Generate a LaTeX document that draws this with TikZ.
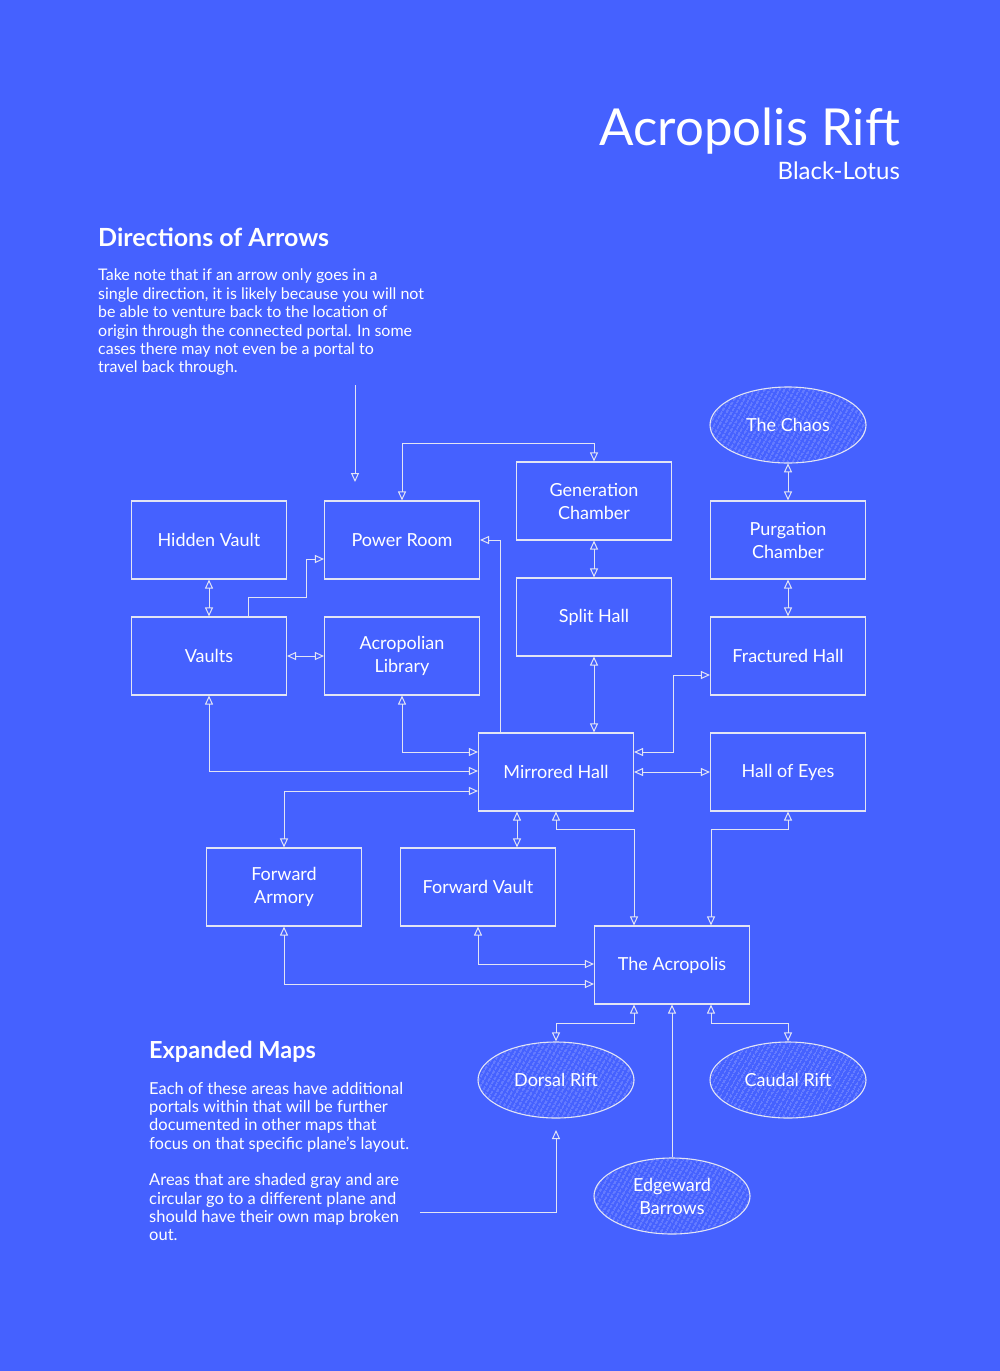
\documentclass[tikz,border=0pt]{standalone}
\usepackage{fontspec}
\setmainfont{Lato}
\usetikzlibrary{arrows.meta,shapes.geometric,patterns.meta}
\definecolor{bg}{HTML}{4561FF}
\definecolor{lc}{HTML}{E2E4F4}
\colorlet{hatch}{bg!50!white}
\tikzset{
  room/.style={draw=lc, line width=1.1pt, minimum width=155pt, minimum height=78pt,
    inner sep=0pt, text=white, align=center, font=\fontsize{18}{23}\selectfont},
  rift/.style={ellipse, draw=lc, line width=1.1pt, minimum width=156pt, minimum height=76pt,
    inner sep=0pt, text=white, align=center, font=\fontsize{18}{23}\selectfont,
    pattern={Lines[angle=60,distance=4pt,line width=0.55pt]}, pattern color=hatch},
  link/.style={draw=lc, line width=1pt},
  >={Triangle[open,length=9pt,width=8pt]},
  heading/.style={anchor=base west, text=white, inner sep=0pt},
  para/.style={anchor=north west, text=white, align=left, inner sep=0pt},
}
\begin{document}
\begin{tikzpicture}[x=1pt,y=-1pt]
\fill[bg] (0,0) rectangle (1000,1371);
\useasboundingbox (0,0) rectangle (1000,1371);

% titles
\node[anchor=base east, text=white, inner sep=0pt, font=\fontsize{51}{58}\selectfont] (title) at (900,145) {Acropolis Rift};
\node[anchor=base east, text=white, inner sep=0pt, font=\fontsize{24}{28}\selectfont] (sub) at (900,179) {Black-Lotus};

\node[heading, font=\bfseries\fontsize{25}{28}\selectfont] (h1) at (98,246) {Directions of Arrows};
\node[para, font=\fontsize{16}{18.4}\selectfont] (p1) at (98,269) {Take note that if an arrow only goes in a\\
single direction, it is likely because you will not\\
be able to venture back to the location of\\
origin through the connected portal. In some\\
cases there may not even be a portal to\\
travel back through.};

\node[heading, font=\bfseries\fontsize{23.5}{28}\selectfont] (h2) at (149,1058) {Expanded Maps};
\node[para, font=\fontsize{16.5}{18.3}\selectfont] (p2) at (149,1082) {Each of these areas have additional\\
portals within that will be further\\
documented in other maps that\\
focus on that specific plane's layout.\\[18.3pt]
Areas that are shaded gray and are\\
circular go to a different plane and\\
should have their own map broken\\
out.};

% rooms
\node[room] (hidden) at (209,540) {Hidden Vault};
\node[room] (power) at (402,540) {Power Room};
\node[room] (gen) at (594,501) {Generation\\Chamber};
\node[room] (split) at (594,617) {Split Hall};
\node[room] (purg) at (788,540) {Purgation\\Chamber};
\node[room] (fract) at (788,656) {Fractured Hall};
\node[room] (vaults) at (209,656) {Vaults};
\node[room] (library) at (402,656) {Acropolian\\Library};
\node[room] (mirror) at (556,772) {Mirrored Hall};
\node[room] (eyes) at (788,772) {Hall of Eyes};
\node[room] (armory) at (284,887) {Forward\\Armory};
\node[room] (fvault) at (478,887) {Forward Vault};
\node[room] (acro) at (672,965) {The Acropolis};

% rifts
\node[rift] (chaos) at (788,425) {The Chaos};
\node[rift] (dorsal) at (556,1080) {Dorsal Rift};
\node[rift] (caudal) at (788,1080) {Caudal Rift};
\node[rift] (edge) at (672,1196) {Edgeward\\Barrows};

% free arrow ends
\coordinate (fa1) at (355,385);
\coordinate (fa2) at (355,482);
\coordinate (ex) at (420,1212);
\coordinate (dx) at (556,1130);

% connectors
\draw[link,->] (fa1) -- (fa2);
\draw[link,->] ([xshift=-56pt]mirror.north) |- (power.east);
\draw[link,<->] (power.north) -- ++(0,-57) -| (gen.north);
\draw[link,<->] (hidden.south) -- (vaults.north);
\draw[link,->] ([xshift=39pt]vaults.north) -- ++(0,-19) -- ++(58,0) |- ([yshift=-19pt]power.west);
\draw[link,<->] (vaults.east) -- (library.west);
\draw[link,<->] (gen.south) -- (split.north);
\draw[link,<->] (split.south) -- (split.south |- mirror.north);
\draw[link,<->] (chaos.south) -- (purg.north);
\draw[link,<->] (purg.south) -- (fract.north);
\draw[link,<->] ([yshift=20pt]mirror.east) -- ++(39,0) |- ([yshift=-19pt]fract.west);
\draw[link,<->] (mirror.east) -- (eyes.west);
\draw[link,<->] (library.south) |- ([yshift=20pt]mirror.west);
\draw[link,<->] (vaults.south) |- ([yshift=1pt]mirror.west);
\draw[link,<->] ([yshift=-19pt]mirror.west) -| (armory.north);
\draw[link,<->] ([xshift=-39pt]mirror.south) -- ([xshift=39pt]fvault.north);
\draw[link,<->] (mirror.south) -- ++(0,18) -| ([xshift=-38pt]acro.north);
\draw[link,<->] (eyes.south) -- ++(0,18) -| ([xshift=39pt]acro.north);
\draw[link,<->] (fvault.south) |- ([yshift=1pt]acro.west);
\draw[link,<->] (armory.south) |- ([yshift=-19pt]acro.west);
\draw[link,<->] ([xshift=-38pt]acro.south) -- ++(0,19) -| (dorsal.north);
\draw[link,<->] ([xshift=39pt]acro.south) -- ++(0,19) -| (caudal.north);
\draw[link,->] (edge.north) -- (acro.south);
\draw[link,->] (ex) -| (dx);
\end{tikzpicture}
\end{document}
